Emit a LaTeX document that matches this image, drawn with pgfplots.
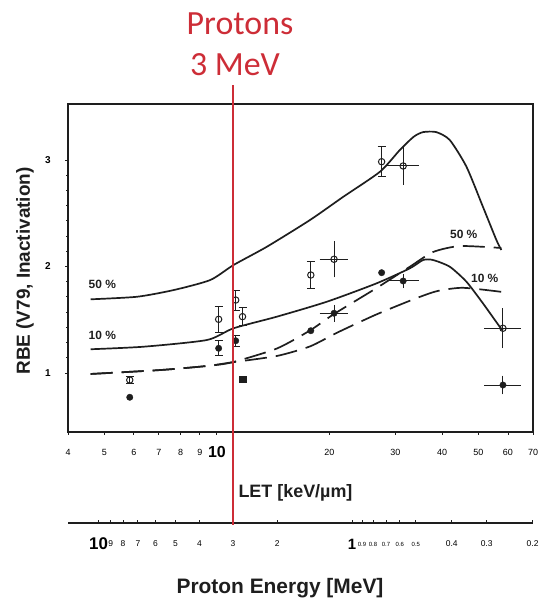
\documentclass[border=0pt]{standalone}
\usepackage{pgfplots}
\pgfplotsset{compat=1.18}
\usepackage{fontspec}
\setmainfont{Liberation Sans}
\newfontfamily\carlito{Carlito}
\definecolor{protred}{RGB}{205,45,55}
\definecolor{ink}{RGB}{30,30,30}
\begin{document}
\begin{tikzpicture}
\useasboundingbox (0,0) rectangle (540bp,606bp);
% main axis
\begin{axis}[
  at={(68bp,174bp)}, anchor=south west,
  scale only axis, width=465bp, height=328bp,
  xmode=log, xmin=4, xmax=70, ymin=0.446, ymax=3.526,
  axis line style={ink, line width=1.6bp},
  xtick={4,5,6,7,8,9,10,20,30,40,50,60,70},
  xticklabels={4,5,6,7,8,9,{\fontsize{16}{16}\selectfont\bfseries 10},20,30,40,50,60,70},
  minor xtick={},
  tick pos=left,
  tick align=outside,
  major tick length=3bp, minor tick length=2bp,
  tick style={ink, line width=0.9bp},
  xticklabel style={font=\fontsize{9}{9}\selectfont, anchor=center, yshift=-17bp},
  ytick={1,2,3}, yticklabels={1,2,3},
  minor y tick num=6,
  yticklabel style={font=\fontsize{10}{10}\selectfont\bfseries, anchor=center, xshift=-17bp},
  clip=false,
]
% solid 50 %
\addplot[ink, line width=1.7bp, smooth, tension=0.4] coordinates {
 (4.60,1.692) (6.12,1.716) (7.67,1.779) (9.60,1.873) (11.08,2.014) (13.61,2.186)
 (17.75,2.437) (21.78,2.655) (27.29,2.890) (30.84,3.094) (33.6,3.219) (35.6,3.262)
 (38.6,3.262) (41.93,3.188) (46.47,2.937) (51.44,2.56) (55.87,2.249) (57.60,2.155)};
% solid 10 %
\addplot[ink, line width=1.7bp, smooth, tension=0.4] coordinates {
 (4.60,1.223) (6.38,1.247) (9.41,1.310) (11.08,1.420) (14.47,1.529) (19.67,1.669)
 (26.73,1.842) (32.80,1.983) (35.59,2.061) (37.84,2.061) (41.93,1.998) (46.47,1.857)
 (51.44,1.654) (57.01,1.435) (58.17,1.404)};
% dashed 50 %
\addplot[ink, line width=1.7bp, smooth, tension=0.4, dash pattern=on 22bp off 9bp] coordinates {
 (4.60,0.991) (7.07,1.028) (9.41,1.066) (10.97,1.10) (14.47,1.23) (17.75,1.40)
 (20.57,1.554) (26.73,1.798) (32.80,1.998) (37.84,2.136) (44.60,2.192) (57.60,2.174)};
% dashed 10 %
\addplot[ink, line width=1.7bp, smooth, tension=0.4, dash pattern=on 22bp off 9bp] coordinates {
 (4.60,0.991) (7.07,1.028) (9.41,1.066) (10.97,1.10) (14.47,1.16) (17.75,1.25)
 (21.0,1.38) (26.7,1.55) (34.0,1.70) (38.9,1.77) (45.5,1.80) (58.2,1.76)};
% open symbols, y errors only
\addplot[only marks, mark=o, mark size=3.2bp, mark options={fill=white, draw=ink, line width=1bp},
  error bars/.cd, y dir=both, y explicit,
  error bar style={ink, line width=1bp}, error mark options={ink, line width=1bp, mark size=4bp, rotate=90}]
 coordinates {
 (5.85,0.934) +- (0,0.035)
 (10.11,1.504) +- (0,0.125)
 (11.23,1.685) +- (0,0.094)
 (11.71,1.529) +- (0,0.085)
 (17.83,1.920) +- (0,0.125)
 (27.57,2.984) +- (0,0.14)};
% open symbols, x and y errors
\addplot[only marks, mark=o, mark size=3.2bp, mark options={fill=white, draw=ink, line width=1bp},
  error bars/.cd, y dir=both, y explicit, x dir=both, x explicit,
  error bar style={ink, line width=1bp}, error mark options={ink, line width=1bp, mark size=4bp}]
 coordinates {
 (20.57,2.068) +- (1.28,0.132)
 (31.48,2.944) +- (2.28,0.141)
 (58.17,1.42) +- (5.1,0.15)};
% filled symbols, no errors
\addplot[only marks, mark=*, mark size=3.2bp, mark options={fill=ink, draw=ink}]
 coordinates {(5.85,0.772) (17.83,1.397) (27.57,1.942)};
% filled, y errors
\addplot[only marks, mark=*, mark size=3.2bp, mark options={fill=ink, draw=ink},
  error bars/.cd, y dir=both, y explicit,
  error bar style={ink, line width=1bp}, error mark options={ink, line width=1bp, mark size=4bp, rotate=90}]
 coordinates {(10.11,1.232) +- (0,0.07) (11.23,1.303) +- (0,0.05)};
% filled, x and y errors
\addplot[only marks, mark=*, mark size=3.2bp, mark options={fill=ink, draw=ink},
  error bars/.cd, y dir=both, y explicit, x dir=both, x explicit,
  error bar style={ink, line width=1bp}, error mark options={ink, line width=1bp, mark size=4bp}]
 coordinates {
 (20.57,1.561) +- (1.28,0.04)
 (31.48,1.864) +- (2.28,0.03)
 (58.17,0.887) +- (5.1,0.05)};
% filled square
\addplot[only marks, mark=square*, mark size=3.2bp, mark options={fill=ink, draw=ink}]
 coordinates {(11.71,0.944)};
% curve labels
\node[font=\bfseries\fontsize{12}{12}\selectfont, ink] at (axis cs:4.94,1.83) {50 \%};
\node[font=\bfseries\fontsize{12}{12}\selectfont, ink] at (axis cs:4.94,1.35) {10 \%};
\node[font=\bfseries\fontsize{12}{12}\selectfont, ink] at (axis cs:45.7,2.30) {50 \%};
\node[font=\bfseries\fontsize{12}{12}\selectfont, ink] at (axis cs:52.0,1.89) {10 \%};
\end{axis}
% proton energy axis
\begin{axis}[
  at={(68bp,83bp)}, anchor=south west,
  scale only axis, width=465bp, height=10bp,
  xmode=log, xmin=4, xmax=70, ymin=0, ymax=1,
  axis x line*=bottom, hide y axis,
  x axis line style={-, ink, line width=1.2bp},
  xtick={4.83,5.20,5.61,6.15,6.85,7.75,8.98,11.05,14.50,22.97,24.43,26.14,28.31,30.84,34.03,42.46,52.62,69.83},
  xticklabels={{\fontsize{17}{17}\selectfont\bfseries 10},9,8,7,6,5,4,3,2,{\fontsize{15}{15}\selectfont\bfseries 1},
    {\fontsize{6}{6}\selectfont 0.9},{\fontsize{6}{6}\selectfont 0.8},{\fontsize{6}{6}\selectfont 0.7},
    {\fontsize{6}{6}\selectfont 0.6},{\fontsize{6}{6}\selectfont 0.5},0.4,0.3,0.2},
  minor xtick={},
  tick align=inside, major tick length=3bp,
  tick style={ink, line width=0.8bp},
  xticklabel style={font=\fontsize{8.5}{8.5}\selectfont, anchor=center, yshift=-21bp},
]
\end{axis}
% red marker line and labels
\draw[protred, line width=1.4bp] (233.1bp,81bp) -- (233.1bp,521bp);
\node[protred, font=\carlito\fontsize{34}{34}\selectfont] at (240bp,582bp) {Protons};
\node[protred, font=\carlito\fontsize{34}{34}\selectfont] at (235bp,541bp) {3 MeV};
% axis titles
\node[rotate=90, font=\bfseries\fontsize{19}{19}\selectfont, ink] at (25bp,335bp) {RBE (V79, Inactivation)};
\node[anchor=west, font=\bfseries\fontsize{18}{18}\selectfont, ink] at (235bp,113bp) {LET [keV/µm]};
\node[font=\bfseries\fontsize{21}{21}\selectfont, ink] at (280bp,18bp) {Proton Energy [MeV]};
\end{tikzpicture}
\end{document}
